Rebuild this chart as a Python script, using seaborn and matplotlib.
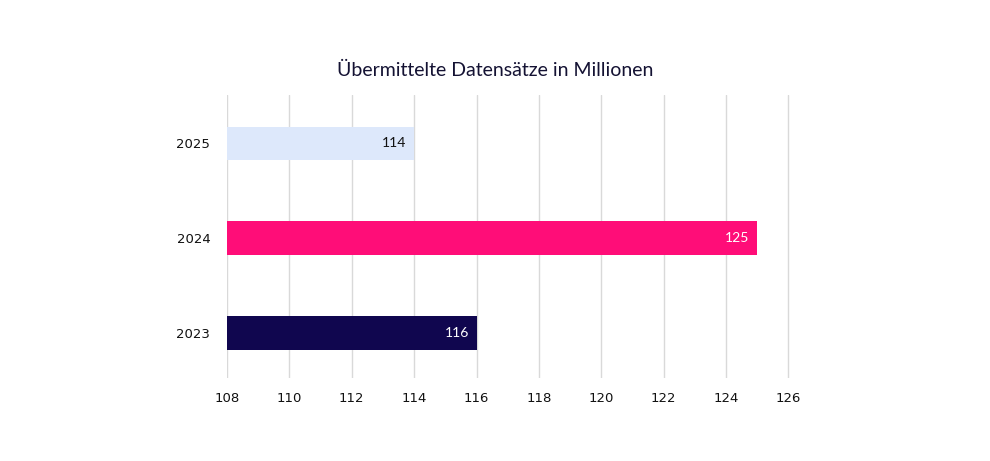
import matplotlib
matplotlib.use("Agg")
import matplotlib.pyplot as plt
import seaborn as sns
import pandas as pd

years = ["2025", "2024", "2023"]
values = [114, 125, 116]
bar_colors = ["#DDE8FB", "#FF0D78", "#10064F"]
label_colors = ["#111111", "white", "white"]
x_ticks = list(range(108, 127, 2))
title = "Übermittelte Datensätze in Millionen"

sns.set_style("white")
plt.rcParams["font.family"] = ["DejaVu Sans"]

df = pd.DataFrame({"year": years, "value": values})

fig = plt.figure(figsize=(9.9, 4.61), dpi=100)
ax = fig.add_axes([0.2293, 0.18, 0.5687, 0.614])

sns.barplot(data=df, y="year", x="value", hue="year", palette=bar_colors,
            order=years, hue_order=years, orient="h", width=0.354,
            saturation=1, legend=False, ax=ax, linewidth=0)

# bars should start at 108, not 0
for patch, v in zip(ax.patches, values):
    patch.set_x(108)
    patch.set_width(v - 108)

for i, (v, c) in enumerate(zip(values, label_colors)):
    ax.text(v - 0.25, i, str(v), ha="right", va="center", color=c,
            fontsize=10, family=["Lato", "DejaVu Sans"])

ax.set_xlim(108, 126.05)
ax.set_ylim(2.475, -0.512)
ax.set_xticks(x_ticks)
ax.set_xlabel("")
ax.set_ylabel("")
ax.tick_params(axis="both", length=0, labelsize=9.5, colors="#111111")
ax.tick_params(axis="y", pad=12)
ax.tick_params(axis="x", pad=10)
ax.grid(axis="x", color="#d9d9d9", linewidth=1)
ax.set_axisbelow(True)
sns.despine(ax=ax, left=True, bottom=True)

fig.text(0.5, 0.848, title, ha="center", va="center", fontsize=14,
         color="#141233", family=["Lato", "DejaVu Sans"])

fig.savefig("out.png", dpi=100)
